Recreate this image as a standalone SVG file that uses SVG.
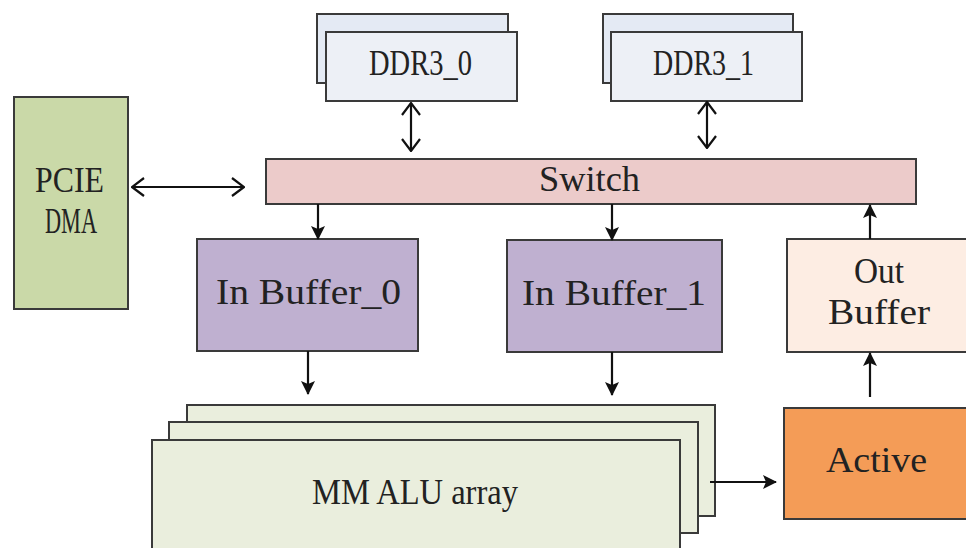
<svg xmlns="http://www.w3.org/2000/svg" width="966" height="548" viewBox="0 0 966 548">
  <defs>
    <style>
      .box { stroke: #3a3a3a; stroke-width: 2; }
      .lbl { font-family: "Liberation Serif", "DejaVu Serif", serif; font-size: 35px; fill: #222; }
      .wire { stroke: #111; stroke-width: 2.2; fill: none; }
      .ddr-back { fill: #e4eaf4; }
      .ddr-front { fill: #edf0f6; }
    </style>
    <!-- solid triangular head -->
    <marker id="solid" viewBox="0 0 14 14" refX="13" refY="7" markerWidth="14" markerHeight="14" markerUnits="userSpaceOnUse" orient="auto">
      <path d="M0,0 L14,7 L0,14 L3,7 Z" fill="#111"/>
    </marker>
    <!-- open chevron head -->
    <marker id="open" viewBox="0 0 14 20" refX="13" refY="10" markerWidth="14" markerHeight="20" markerUnits="userSpaceOnUse" orient="auto-start-reverse">
      <path d="M1,1 L13,10 L1,19" fill="none" stroke="#111" stroke-width="2.2"/>
    </marker>
  </defs>

  <rect width="966" height="548" fill="#ffffff"/>

  <!-- memory banks -->
  <g id="ddr3-0">
    <rect class="box ddr-back" x="317" y="14" width="191" height="69"/>
    <rect class="box ddr-front" x="326" y="32" width="191" height="69"/>
    <text class="lbl" x="369" y="75" textLength="103" lengthAdjust="spacingAndGlyphs">DDR3_0</text>
  </g>
  <g id="ddr3-1">
    <rect class="box ddr-back" x="603" y="14" width="190" height="69"/>
    <rect class="box ddr-front" x="611" y="32" width="191" height="69"/>
    <text class="lbl" x="653" y="75" textLength="101" lengthAdjust="spacingAndGlyphs">DDR3_1</text>
  </g>

  <g id="pcie-dma">
    <rect class="box" x="14" y="97" width="114" height="212" fill="#cad9a8"/>
    <text class="lbl" x="35" y="192" textLength="69" lengthAdjust="spacingAndGlyphs">PCIE</text>
    <text class="lbl" x="45" y="233" textLength="52" lengthAdjust="spacingAndGlyphs">DMA</text>
  </g>

  <g id="switch">
    <rect class="box" x="266" y="159" width="650" height="45" fill="#eccbca"/>
    <text class="lbl" x="539" y="191" textLength="101" lengthAdjust="spacingAndGlyphs">Switch</text>
  </g>

  <g id="in-buffer-0">
    <rect class="box" x="197" y="239" width="221" height="112" fill="#bfb0d0"/>
    <text class="lbl" x="216" y="304" textLength="185" lengthAdjust="spacingAndGlyphs">In Buffer_0</text>
  </g>
  <g id="in-buffer-1">
    <rect class="box" x="507" y="240" width="215" height="112" fill="#bfb0d0"/>
    <text class="lbl" x="522" y="305" textLength="184" lengthAdjust="spacingAndGlyphs">In Buffer_1</text>
  </g>

  <g id="out-buffer">
    <rect class="box" x="787" y="239" width="190" height="113" fill="#fdede3"/>
    <text class="lbl" x="854" y="283" textLength="50" lengthAdjust="spacingAndGlyphs">Out</text>
    <text class="lbl" x="828" y="324" textLength="102" lengthAdjust="spacingAndGlyphs">Buffer</text>
  </g>

  <g id="active">
    <rect class="box" x="784" y="408" width="190" height="111" fill="#f49c57"/>
    <text class="lbl" x="826" y="472" textLength="101" lengthAdjust="spacingAndGlyphs">Active</text>
  </g>

  <g id="mm-alu-array">
    <rect class="box" x="187" y="405" width="528" height="111" fill="#eaeedd"/>
    <rect class="box" x="169" y="422" width="529" height="111" fill="#eaeedd"/>
    <rect class="box" x="152" y="440" width="528" height="120" fill="#eaeedd"/>
    <text class="lbl" x="312" y="504" textLength="206" lengthAdjust="spacingAndGlyphs">MM ALU array</text>
  </g>

  <g id="connectors">
    <line class="wire" x1="411" y1="103" x2="411" y2="151" marker-start="url(#open)" marker-end="url(#open)"/>
    <line class="wire" x1="707" y1="102" x2="707" y2="148" marker-start="url(#open)" marker-end="url(#open)"/>
    <line class="wire" x1="132" y1="187" x2="244" y2="187" marker-start="url(#open)" marker-end="url(#open)"/>
    <line class="wire" x1="318" y1="204" x2="318" y2="239" marker-end="url(#solid)"/>
    <line class="wire" x1="612" y1="204" x2="612" y2="240" marker-end="url(#solid)"/>
    <line class="wire" x1="308" y1="351" x2="308" y2="394" marker-end="url(#solid)"/>
    <line class="wire" x1="612" y1="352" x2="612" y2="395" marker-end="url(#solid)"/>
    <line class="wire" x1="870" y1="239" x2="870" y2="205" marker-end="url(#solid)"/>
    <line class="wire" x1="870" y1="397" x2="870" y2="353" marker-end="url(#solid)"/>
    <line class="wire" x1="710" y1="482" x2="776" y2="482" marker-end="url(#solid)"/>
  </g>
</svg>
